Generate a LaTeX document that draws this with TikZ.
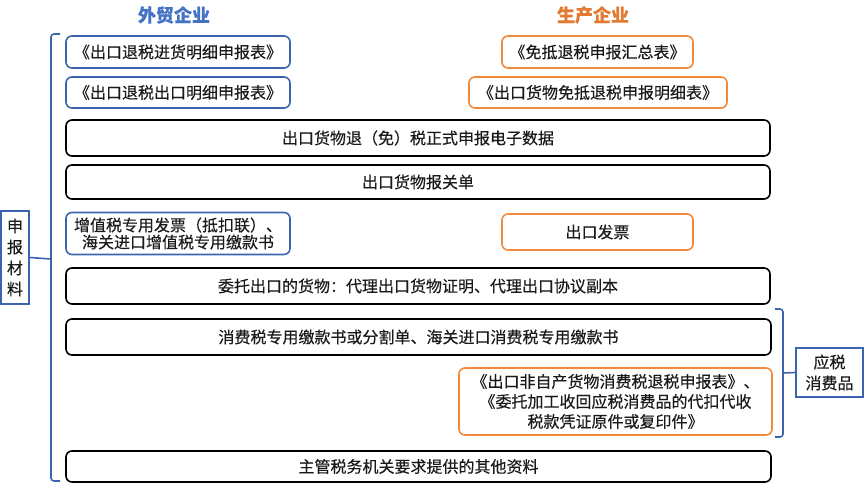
\documentclass[tikz,border=0pt]{standalone}
\usepackage{fontspec}
\setmainfont{Noto Sans CJK SC}[FakeBold=0.35]
\definecolor{bblue}{HTML}{3C64AE}
\definecolor{tblue}{HTML}{4472C4}
\definecolor{borange}{HTML}{F08A3C}
\definecolor{torange}{HTML}{E27A33}
\definecolor{txt}{HTML}{1A1A1A}
\begin{document}
\begin{tikzpicture}[x=1pt,y=-1pt,
  base/.style={rounded corners=6pt,line width=1.6pt,inner sep=0pt,align=center,text=txt,font=\fontsize{16}{18}\selectfont},
  bbox/.style={base,draw=bblue},
  obox/.style={base,draw=borange},
  kbox/.style={base,draw=black},
  sidebox/.style={draw=bblue,line width=1.6pt,inner sep=0pt,align=center,text=txt,font=\fontsize{16}{21}\selectfont},
  brace/.style={draw=bblue,line width=1.6pt},
  title/.style={font=\fontsize{18}{20}\selectfont\bfseries}]
\useasboundingbox (0,0) rectangle (864,484);
% titles
\node[title,text=tblue] (t1) at (174,15) {外贸企业};
\node[title,text=torange] (t2) at (593,15) {生产企业};
% left column (foreign trade)
\node[bbox,minimum width=224pt,minimum height=32pt] (b1) at (178,52) {《出口退税进货明细申报表》};
\node[bbox,minimum width=224pt,minimum height=31pt] (b2) at (178,92.5) {《出口退税出口明细申报表》};
\node[bbox,minimum width=224pt,minimum height=42pt,font=\fontsize{16}{17}\selectfont] (b5) at (178,233.5) {增值税专用发票（抵扣联）、\\海关进口增值税专用缴款书};
% right column (production)
\node[obox,minimum width=191pt,minimum height=32pt] (oA) at (597.5,52) {《免抵退税申报汇总表》};
\node[obox,minimum width=258pt,minimum height=31pt] (oB) at (598,92.5) {《出口货物免抵退税申报明细表》};
\node[obox,minimum width=191pt,minimum height=36pt] (oC) at (597.5,232) {出口发票};
\node[obox,minimum width=313pt,minimum height=67pt,font=\fontsize{16}{20}\selectfont] (oD) at (615.5,401.5) {《出口非自产货物消费税退税申报表》、\\《委托加工收回应税消费品的代扣代收\\税款凭证原件或复印件》};
% full width
\node[kbox,minimum width=704pt,minimum height=36pt] (k3) at (418,138) {出口货物退（免）税正式申报电子数据};
\node[kbox,minimum width=704pt,minimum height=34pt] (k4) at (418,182) {出口货物报关单};
\node[kbox,minimum width=704pt,minimum height=36pt] (k6) at (418,286) {委托出口的货物：代理出口货物证明、代理出口协议副本};
\node[kbox,minimum width=705pt,minimum height=36pt] (k7) at (418.5,337) {消费税专用缴款书或分割单、海关进口消费税专用缴款书};
\node[kbox,minimum width=705pt,minimum height=31pt] (k8) at (418.5,466.5) {主管税务机关要求提供的其他资料};
% side boxes
\node[sidebox,minimum width=28pt,minimum height=93pt] (L) at (15,257.5) {申\\报\\材\\料};
\node[sidebox,minimum width=67pt,minimum height=49pt] (R) at (829.5,372.5) {应税\\消费品};
% braces
\coordinate (lb) at (51,259);
\coordinate (rb) at (783,373);
\draw[brace,rounded corners=3pt] (60,34) -- (51,34) -- (51,481) -- (60,481);
\draw[brace] (L.east) -- (lb);
\draw[brace,rounded corners=3pt] (775,309) -- (783,309) -- (783,437) -- (775,437);
\draw[brace] (rb) -- (R.west);
\end{tikzpicture}
\end{document}
